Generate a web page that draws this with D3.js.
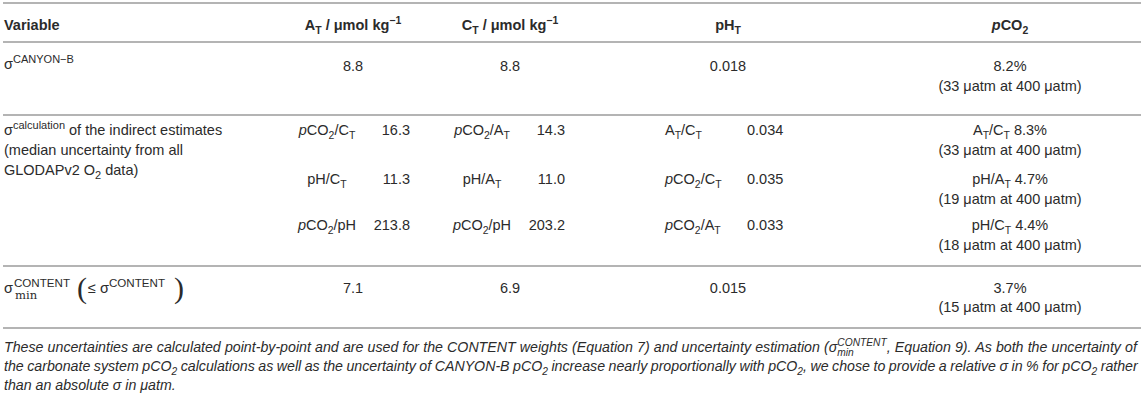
<!DOCTYPE html>
<html>
<head>
<meta charset="utf-8">
<script src="https://cdn.jsdelivr.net/npm/d3@7"></script>
<style>
  html, body { margin: 0; padding: 0; background: #fff; }
</style>
</head>
<body>
<div id="table"></div>
<script>
// Table: uncertainties of CANYON-B, indirect estimates and CONTENT
// markup: _{..} subscript, ^{..} superscript, *..* italic, @{sub|sup} stacked
const colKeys = ["AT", "CT", "pH", "pCO2"];
const headers = ["Variable", "A_{T} / μmol kg^{−1}", "C_{T} / μmol kg^{−1}", "pH_{T}", "*p*CO_{2}"];

const canyonLabel = "σ^{CANYON−B}";
const canyonValues = ["8.8", "8.8", "0.018", "8.2%"];
const canyonAtm = "33";

const calcLabel = ["σ^{calculation} of the indirect estimates", "(median uncertainty from all", "GLODAPv2 O_{2} data)"];
const calcAT = [["*p*CO_{2}/C_{T}", "16.3"], ["pH/C_{T}", "11.3"], ["*p*CO_{2}/pH", "213.8"]];
const calcCT = [["*p*CO_{2}/A_{T}", "14.3"], ["pH/A_{T}", "11.0"], ["*p*CO_{2}/pH", "203.2"]];
const calcPH = [["A_{T}/C_{T}", "0.034"], ["*p*CO_{2}/C_{T}", "0.035"], ["*p*CO_{2}/A_{T}", "0.033"]];
const calcPCO2 = [["A_{T}/C_{T}", "8.3%", "33"], ["pH/A_{T}", "4.7%", "19"], ["pH/C_{T}", "4.4%", "18"]];

const contentValues = ["7.1", "6.9", "0.015", "3.7%"];
const contentAtm = "15";
const refAtm = "400";

const footnote = [
  "*These uncertainties are calculated point-by-point and are used for the CONTENT weights (Equation 7) and uncertainty estimation (σ@{min|CONTENT}, Equation 9). As both the uncertainty of*",
  "*the carbonate system pCO_{2} calculations as well as the uncertainty of CANYON-B pCO_{2} increase nearly proportionally with pCO_{2}, we chose to provide a relative σ in % for pCO_{2} rather*",
  "*than an absolute σ in μatm.*"
];

const width = 1146, height = 400;
const ink = "#2b2b2b", ruleColor = "#b4b4b4";
const fontSize = 14.5, noteSize = 14.2;
const left = 4, right = 1141;

const svg = d3.select("#table").append("svg")
  .attr("width", width).attr("height", height)
  .style("font-family", "'Liberation Sans', Arial, Helvetica, sans-serif");

const colX = d3.scaleOrdinal().domain(colKeys).range([353, 510, 728, 1010]);
// inner sub-columns of the "indirect estimates" row
const subLabelX = d3.scaleOrdinal().domain(colKeys).range([327, 482, 665, 0]);
const subValueX = d3.scaleOrdinal().domain(colKeys).range([410, 565, 747, 0]);

function parse(str) {
  const segs = [];
  let buf = "", italic = false, i = 0;
  const flush = () => { if (buf) segs.push({t: buf, i: italic}); buf = ""; };
  while (i < str.length) {
    const c = str[i];
    if ((c === "_" || c === "^" || c === "@") && str[i + 1] === "{") {
      flush();
      const close = str.indexOf("}", i);
      const inner = str.slice(i + 2, close);
      if (c === "@") {
        const [sub, sup] = inner.split("|");
        segs.push({s: "stack", sub, sup, i: italic});
      } else {
        segs.push({t: inner, s: c === "_" ? "sub" : "sup", i: italic});
      }
      i = close + 1;
      continue;
    }
    if (c === "*") { flush(); italic = !italic; i++; continue; }
    buf += c; i++;
  }
  flush();
  return segs;
}

function rich(g, str, x, y, o = {}) {
  const size = o.size || fontSize;
  const small = o.small || 0.72;
  const t = g.append("text").attr("x", x).attr("y", y)
    .attr("font-size", size).attr("fill", ink)
    .attr("text-anchor", o.anchor || "start");
  if (o.bold) t.attr("font-weight", "bold");
  let shift = 0, pendingDx = 0;
  parse(str).forEach(seg => {
    if (seg.s === "stack") {
      const supDy = -size * 0.42, subDy = size * 0.3;
      const a = t.append("tspan").attr("dy", supDy - shift).attr("font-size", size * small)
        .attr("font-style", seg.i ? "italic" : null).text(seg.sup);
      if (pendingDx) a.attr("dx", pendingDx);
      const wa = a.node().getComputedTextLength();
      const b = t.append("tspan").attr("dx", -wa).attr("dy", subDy - supDy).attr("font-size", size * small)
        .attr("font-style", seg.i ? "italic" : null).text(seg.sub);
      const wb = b.node().getComputedTextLength();
      pendingDx = Math.max(0, wa - wb);
      shift = subDy;
      return;
    }
    const target = seg.s === "sub" ? size * 0.3 : seg.s === "sup" ? -size * 0.42 : 0;
    const ts = t.append("tspan").attr("dy", target - shift)
      .attr("font-size", seg.s ? size * small : size)
      .attr("font-style", seg.i ? "italic" : null)
      .text(seg.t);
    if (pendingDx) { ts.attr("dx", pendingDx); pendingDx = 0; }
    shift = target;
  });
  return t;
}

const atmLine = n => `(${n} μatm at ${refAtm} μatm)`;

// horizontal rules
const rules = [3, 42, 115, 266, 328];
svg.selectAll("line.rule").data(rules).join("line")
  .attr("class", "rule")
  .attr("x1", left - 1).attr("x2", right)
  .attr("y1", d => d).attr("y2", d => d)
  .attr("stroke", ruleColor).attr("stroke-width", 2);

const g = svg.append("g");
const base = 5; // text center -> baseline

// header
rich(g, headers[0], left, 25 + base, {bold: true});
colKeys.forEach((k, i) => rich(g, headers[i + 1], colX(k), 25 + base, {bold: true, anchor: "middle"}));

// CANYON-B row
rich(g, canyonLabel, left, 64 + base, {small: 0.76});
colKeys.forEach((k, i) => rich(g, canyonValues[i], colX(k), 66 + base, {anchor: "middle"}));
rich(g, atmLine(canyonAtm), colX("pCO2"), 86 + base, {anchor: "middle"});

// indirect estimates row
calcLabel.forEach((s, i) => rich(g, s, left, 130 + i * 20 + base, {small: 0.76}));
const subY = [130, 179, 225];
calcAT.forEach((d, i) => {
  rich(g, d[0], subLabelX("AT"), subY[i] + base, {anchor: "middle"});
  rich(g, d[1], subValueX("AT"), subY[i] + base, {anchor: "end"});
});
calcCT.forEach((d, i) => {
  rich(g, d[0], subLabelX("CT"), subY[i] + base, {anchor: "middle"});
  rich(g, d[1], subValueX("CT"), subY[i] + base, {anchor: "end"});
});
calcPH.forEach((d, i) => {
  rich(g, d[0], subLabelX("pH"), subY[i] + base);
  rich(g, d[1], subValueX("pH"), subY[i] + base);
});
calcPCO2.forEach((d, i) => {
  rich(g, `${d[0]} ${d[1]}`, colX("pCO2"), subY[i] + base, {anchor: "middle"});
  rich(g, atmLine(d[2]), colX("pCO2"), subY[i] + 20 + base, {anchor: "middle"});
});

// CONTENT row: σ with stacked sup/sub, then (≤ σ^CONTENT)
const yC = 288 + base;
const sig = g.append("text").attr("x", left).attr("y", yC).attr("font-size", fontSize)
  .attr("fill", ink).text("σ");
const sigW = sig.node().getComputedTextLength();
g.append("text").attr("x", left + sigW + 1).attr("y", yC - 6.5).attr("font-size", fontSize * 0.8)
  .attr("fill", ink).text("CONTENT");
g.append("text").attr("x", left + sigW + 2).attr("y", yC + 5.5).attr("font-size", fontSize * 0.8)
  .attr("font-family", "'DejaVu Serif', 'Liberation Serif', serif").attr("fill", ink).text("min");
const parenAttrs = t => t.attr("font-size", 30).attr("font-family", "'Liberation Serif', serif")
  .attr("fill", ink);
g.append("text").attr("x", 77).attr("y", 288 + 10).text("(").call(parenAttrs);
rich(g, "≤ σ^{CONTENT}", 88, yC, {small: 0.8});
g.append("text").attr("x", 174).attr("y", 288 + 10).text(")").call(parenAttrs);

colKeys.forEach((k, i) => rich(g, contentValues[i], colX(k), yC, {anchor: "middle"}));
rich(g, atmLine(contentAtm), colX("pCO2"), 307 + base, {anchor: "middle"});

// footnote, first two lines justified
footnote.forEach((s, i) => {
  const t = rich(g, s, left, 347 + i * 19 + 4.5, {size: noteSize});
  if (i < footnote.length - 1) {
    const w = t.node().getBBox().width;
    const spaces = (s.match(/ /g) || []).length;
    t.attr("word-spacing", (right - 2 - left - w) / spaces);
  }
});
</script>
</body>
</html>
